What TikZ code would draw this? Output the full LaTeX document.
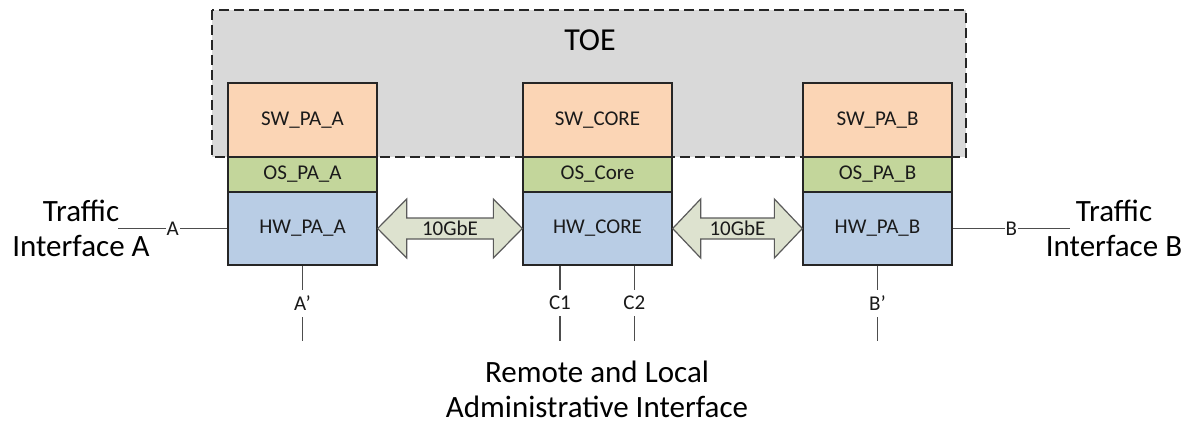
\documentclass[tikz,border=0pt]{standalone}
\usepackage{fontspec}
\setmainfont{Carlito}
\usetikzlibrary{calc}
\definecolor{swc}{HTML}{FBD5B5}
\definecolor{osc}{HTML}{C3D69B}
\definecolor{hwc}{HTML}{B9CDE5}
\definecolor{arrc}{HTML}{DDE2CF}
\definecolor{arrline}{HTML}{5A5A5A}
\definecolor{toec}{HTML}{D9D9D9}
\definecolor{edge}{HTML}{262626}
\definecolor{txt}{HTML}{1A1A1A}
\definecolor{wire}{HTML}{4D4D4D}
\begin{document}
\begin{tikzpicture}[x=1pt,y=-1pt,
  layer/.style={draw=edge,line width=1.3pt,minimum width=149pt,inner sep=0pt,
    font=\fontsize{21}{24}\selectfont,text=txt},
  swbox/.style={layer,fill=swc,minimum height=74pt},
  osbox/.style={layer,fill=osc,minimum height=35pt},
  hwbox/.style={layer,fill=hwc,minimum height=73pt},
  plabel/.style={fill=white,inner xsep=1pt,inner ysep=6pt,
    font=\fontsize{21}{24}\selectfont,text=txt},
  wireline/.style={draw=wire,line width=1.3pt},
  dbl/.style={draw=arrline,fill=arrc,line width=1.2pt,line join=miter},
  biglabel/.style={align=center,font=\fontsize{31}{35}\selectfont,text=black},
  toebox/.style={draw=edge,fill=toec,line width=1.3pt,dash pattern=on 10pt off 5pt}
]
\useasboundingbox (0,0) rectangle (1194,423);

% TOE region
\path[toebox] (212,10) rectangle (966,157);
\node[font=\fontsize{32}{36}\selectfont,text=black] (toe) at (590,40) {TOE};

% columns
\node[swbox] (swA) at (302.5,120) {SW\_PA\_A};
\node[osbox] (osA) at (302.5,174.5) {OS\_PA\_A};
\node[hwbox] (hwA) at (302.5,228.5) {HW\_PA\_A};

\node[swbox] (swC) at (597.5,120) {SW\_CORE};
\node[osbox] (osC) at (597.5,174.5) {OS\_Core};
\node[hwbox] (hwC) at (597.5,228.5) {HW\_CORE};

\node[swbox] (swB) at (877.5,120) {SW\_PA\_B};
\node[osbox] (osB) at (877.5,174.5) {OS\_PA\_B};
\node[hwbox] (hwB) at (877.5,228.5) {HW\_PA\_B};

% double arrows
\draw[dbl] let \p1=(hwA.east), \p2=(hwC.west) in
  (\p1) -- (\x1+29pt,\y1+29.5pt) -- (\x1+29pt,\y1+10.5pt) -- (\x2-29pt,\y1+10.5pt)
  -- (\x2-29pt,\y1+29.5pt) -- (\p2) -- (\x2-29pt,\y1-29.5pt) -- (\x2-29pt,\y1-10.5pt)
  -- (\x1+29pt,\y1-10.5pt) -- (\x1+29pt,\y1-29.5pt) -- cycle;
\node[font=\fontsize{21}{24}\selectfont,text=txt] (g1) at ($(hwA.east)!0.5!(hwC.west)$) {10GbE};

\draw[dbl] let \p1=(hwC.east), \p2=(hwB.west) in
  (\p1) -- (\x1+28pt,\y1+29.5pt) -- (\x1+28pt,\y1+10.5pt) -- (\x2-28pt,\y1+10.5pt)
  -- (\x2-28pt,\y1+29.5pt) -- (\p2) -- (\x2-28pt,\y1-29.5pt) -- (\x2-28pt,\y1-10.5pt)
  -- (\x1+28pt,\y1-10.5pt) -- (\x1+28pt,\y1-29.5pt) -- cycle;
\node[font=\fontsize{21}{24}\selectfont,text=txt] (g2) at ($(hwC.east)!0.5!(hwB.west)$) {10GbE};

% traffic interfaces
\coordinate (aEnd) at (118,228.5);
\coordinate (bEnd) at (1070,228.5);
\draw[wireline] (aEnd) -- node[plabel] (lA) {A} (hwA.west);
\draw[wireline] (hwB.east) -- node[plabel] (lB) {B} (bEnd);
\node[biglabel] (tiA) at (81,228) {Traffic\\Interface A};
\node[biglabel] (tiB) at (1114,228) {Traffic\\Interface B};

% admin ports
\coordinate (apEnd) at ($(hwA.south)+(0,75)$);
\draw[wireline] (hwA.south) -- node[plabel] (lAp) {A’} (apEnd);
\coordinate (c1Top) at ($(hwC.south west)!0.25!(hwC.south east)$);
\coordinate (c2Top) at ($(hwC.south west)!0.745!(hwC.south east)$);
\coordinate (c1End) at ($(c1Top)+(0,75)$);
\coordinate (c2End) at ($(c2Top)+(0,75)$);
\draw[wireline] (c1Top) -- node[plabel] (lC1) {C1} (c1End);
\draw[wireline] (c2Top) -- node[plabel] (lC2) {C2} (c2End);
\coordinate (bpEnd) at ($(hwB.south)+(0,75)$);
\draw[wireline] (hwB.south) -- node[plabel] (lBp) {B’} (bpEnd);

\node[biglabel] (admin) at (597,389) {Remote and Local\\Administrative Interface};
\end{tikzpicture}
\end{document}
